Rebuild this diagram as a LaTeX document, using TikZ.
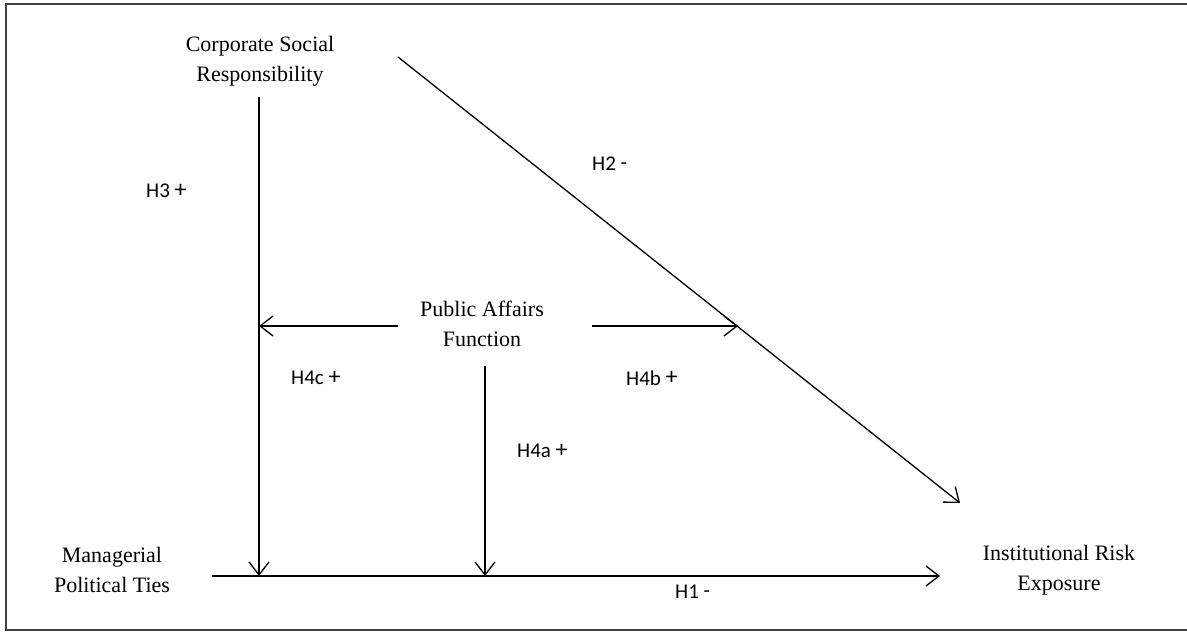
\documentclass[tikz,border=0pt]{standalone}
\usepackage{fontspec}
\setmainfont{Liberation Serif}
\newfontfamily\lblfont{Carlito}
\usetikzlibrary{arrows.meta}
\newcommand{\hplus}{\ {\fontsize{24}{24}\selectfont\raisebox{0.5pt}{+}}}
\newcommand{\hminus}{\ \raisebox{1pt}{-}}
\tikzset{
  concept/.style={font=\fontsize{22}{30}\selectfont, align=center, inner sep=0pt},
  hyp/.style={font=\lblfont\fontsize{21}{22}\selectfont, inner sep=0pt, anchor=west},
  link/.style={line width=1.3pt, -{Straight Barb[length=13pt,width=20pt,line width=1.3pt]}},
  frame/.style={line width=1.2pt, draw=black!75}
}
\begin{document}
\begin{tikzpicture}[x=1pt,y=-1pt]
\useasboundingbox (0,0) rectangle (1187,632);
\draw[frame] (1190,4) -- (6,4) -- (6,630) -- (1190,630);
\node[concept] (csr) at (260,61) {Corporate Social\\Responsibility};
\node[concept] (paf) at (482,324) {Public Affairs\\Function};
\node[concept] (mpt) at (112,570) {Managerial\\Political Ties};
\node[concept] (ire) at (1059,570) {Institutional Risk\\Exposure};
\coordinate (csrbot) at (259,97);
\coordinate (csrright) at (398,57);
\coordinate (mptright) at (212,576);
\coordinate (ireleft) at (940,576);
\coordinate (ireup) at (960,503);
\coordinate (pafleft) at (398,326);
\coordinate (pafright) at (592,326);
\coordinate (pafbot) at (485,366);
\coordinate (j1) at (259,576);
\coordinate (j2) at (485,576);
\coordinate (j3) at (259,326);
\coordinate (j4) at (738,326);
\draw[link] (mptright) -- (ireleft);
\draw[link] (csrright) -- (ireup);
\draw[link] (csrbot) -- (j1);
\draw[link] (pafleft) -- (j3);
\draw[link] (pafright) -- (j4);
\draw[link] (pafbot) -- (j2);
\node[hyp] (h3) at (146,191) {H3\hplus};
\node[hyp] (h2) at (592,164) {H2\hminus};
\node[hyp] (h4c) at (291,378) {H4c\hplus};
\node[hyp] (h4b) at (626,378) {H4b\hplus};
\node[hyp] (h4a) at (517,451) {H4a\hplus};
\node[hyp] (h1) at (675,592) {H1\hminus};
\end{tikzpicture}
\end{document}
